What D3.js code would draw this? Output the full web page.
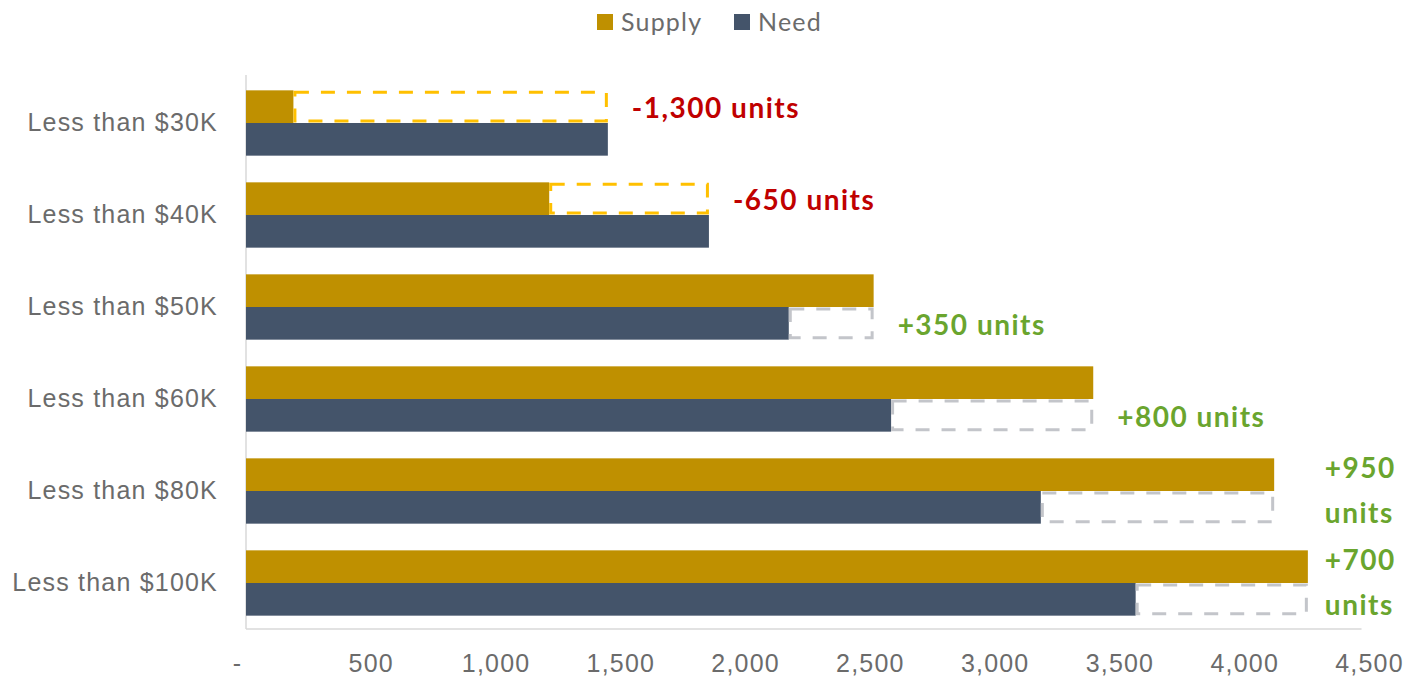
<!DOCTYPE html>
<html>
<head>
<meta charset="utf-8">
<script src="https://cdn.jsdelivr.net/npm/d3@7"></script>
<style>
  body { margin: 0; background: #fff; }
  svg { font-family: Lato, "Noto Sans", sans-serif; }
</style>
</head>
<body>
<svg width="1418" height="680"></svg>
<script>
  const categories = ['Less than $30K', 'Less than $40K', 'Less than $50K', 'Less than $60K', 'Less than $80K', 'Less than $100K'];
  const supply = [190, 1215, 2515, 3395, 4120, 4255];
  const need = [1450, 1855, 2175, 2585, 3185, 3565];
  const gapLabels = [['-1,300 units'], ['-650 units'], ['+350 units'], ['+800 units'], ['+950', 'units'], ['+700', 'units']];
  const xTicks = [0, 500, 1000, 1500, 2000, 2500, 3000, 3500, 4000, 4500];

  const supplyColor = '#bf9000';
  const needColor = '#44546a';
  const textColor = '#6b6b6b';

  const svg = d3.select('svg');
  const margin = { left: 246, right: 49, top: 77, bottom: 51 };
  const width = 1418, height = 680;

  const x = d3.scaleLinear().domain([0, 4500]).range([margin.left, width - margin.right]);
  const y = d3.scaleBand().domain(categories)
    .range([margin.top, height - margin.bottom])
    .paddingInner(0.29).paddingOuter(0.145);
  const half = y.bandwidth() / 2;

  // axis lines
  svg.append('line')
    .attr('x1', x(0)).attr('x2', x(0))
    .attr('y1', margin.top - 2).attr('y2', height - margin.bottom)
    .attr('stroke', '#d9d9d9').attr('stroke-width', 1.5);
  svg.append('line')
    .attr('x1', x(0)).attr('x2', x(4470))
    .attr('y1', height - margin.bottom).attr('y2', height - margin.bottom)
    .attr('stroke', '#d9d9d9').attr('stroke-width', 1.5);

  // x axis labels
  const xAxis = d3.axisBottom(x).tickValues(xTicks).tickSize(0).tickPadding(25)
    .tickFormat(d => d === 0 ? '-' : d3.format(',')(d));
  const xg = svg.append('g').attr('transform', `translate(0,${height - margin.bottom})`).call(xAxis);
  xg.select('.domain').remove();
  xg.selectAll('text').attr('fill', textColor).attr('font-size', 25).attr('letter-spacing', 1.2);
  xg.selectAll('.tick').filter(d => d === 0).select('text').attr('dx', -9);

  // y axis labels
  const yAxis = d3.axisLeft(y).tickSize(0).tickPadding(28);
  const yg = svg.append('g').attr('transform', `translate(${margin.left},0)`).call(yAxis);
  yg.select('.domain').remove();
  yg.selectAll('text').attr('fill', textColor).attr('font-size', 25).attr('letter-spacing', 1.2);

  const rows = categories.map((c, i) => ({ c, s: supply[i], n: need[i], label: gapLabels[i] }));

  // bars
  const groups = svg.append('g').selectAll('g').data(rows).join('g')
    .attr('transform', d => `translate(0,${y(d.c)})`);

  groups.append('rect')
    .attr('x', x(0)).attr('y', 0)
    .attr('width', d => x(d.s) - x(0)).attr('height', half)
    .attr('fill', supplyColor);
  groups.append('rect')
    .attr('x', x(0)).attr('y', half)
    .attr('width', d => x(d.n) - x(0)).attr('height', half)
    .attr('fill', needColor);

  // dashed gap boxes
  groups.append('rect')
    .attr('x', d => x(Math.min(d.s, d.n)) + 1.5)
    .attr('y', d => (d.s < d.n ? 0 : half) + 2)
    .attr('width', d => Math.abs(x(d.s) - x(d.n)) - 3)
    .attr('height', half - 4)
    .attr('fill', 'none')
    .attr('stroke', d => d.s < d.n ? '#ffc000' : '#c3c5ca')
    .attr('stroke-width', 3)
    .attr('stroke-dasharray', '14,12');

  // gap labels; wrapped ones line up after the longest bar
  const wrapX = x(d3.max(supply)) + 17;
  groups.each(function(d) {
    const g = d3.select(this);
    const end = x(Math.max(d.s, d.n));
    const rowMid = d.s < d.n ? half / 2 : half * 1.5;
    const color = d.s < d.n ? '#c00000' : '#6aa52e';
    if (d.label.length === 1) {
      g.append('text')
        .attr('x', end + 24).attr('y', rowMid + 2)
        .attr('dy', '0.35em')
        .attr('fill', color).attr('font-size', 28).attr('font-weight', 'bold')
        .attr('letter-spacing', 1.5)
        .text(d.label[0]);
    } else {
      g.append('text')
        .attr('y', half)
        .attr('fill', color).attr('font-size', 28).attr('font-weight', 'bold')
        .attr('letter-spacing', 1.5)
        .selectAll('tspan').data(d.label).join('tspan')
        .attr('x', wrapX)
        .attr('dy', (t, i) => i === 0 ? '-0.45em' : '1.6em')
        .text(t => t);
    }
  });

  // legend
  const legendItems = [{ name: 'Supply', color: supplyColor, x: 597 }, { name: 'Need', color: needColor, x: 734 }];
  const lg = svg.append('g').selectAll('g').data(legendItems).join('g')
    .attr('transform', d => `translate(${d.x},14)`);
  lg.append('rect').attr('width', 16).attr('height', 16).attr('fill', d => d.color);
  lg.append('text').attr('x', 24).attr('y', 8).attr('dy', '0.35em')
    .attr('fill', textColor).attr('font-size', 25).attr('letter-spacing', 1.2).text(d => d.name);
</script>
</body>
</html>
